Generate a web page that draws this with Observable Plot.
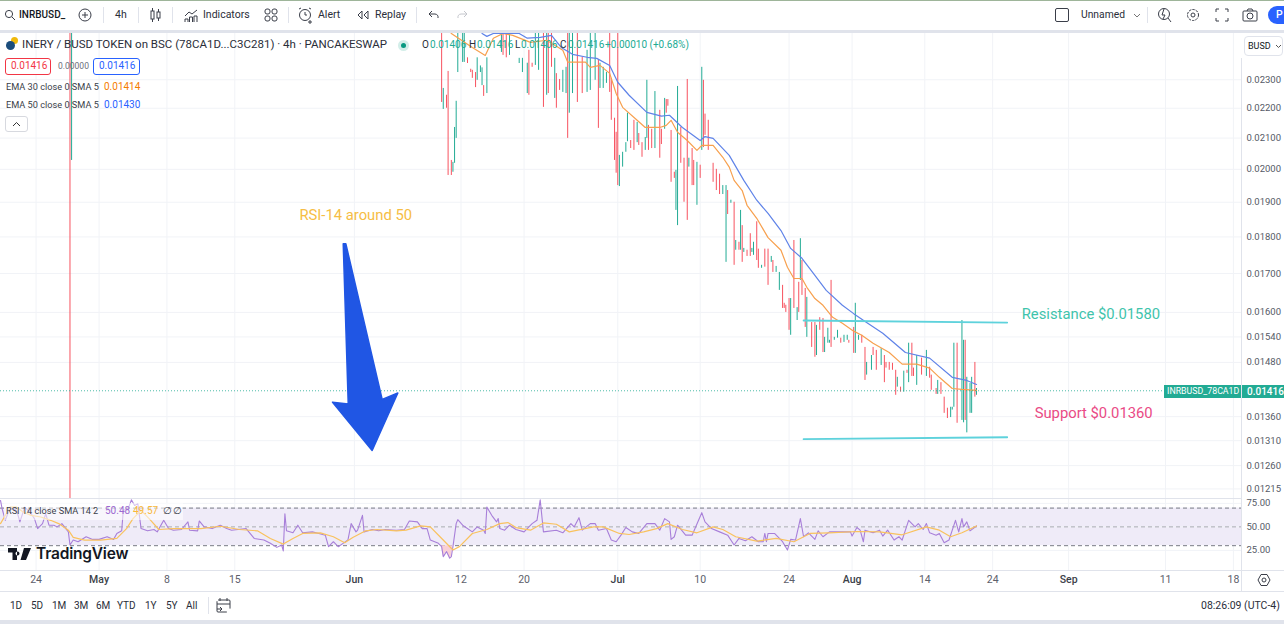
<!DOCTYPE html>
<html><head><meta charset="utf-8">
<script src="https://cdn.jsdelivr.net/npm/d3@7"></script>
<script src="https://cdn.jsdelivr.net/npm/@observablehq/plot@0.6"></script>
<style>
html,body{margin:0;padding:0;background:#fff;overflow:hidden}
#page{position:relative;width:1284px;height:624px;font-family:Roboto,sans-serif;overflow:hidden;color:#2a2e39}
.t{position:absolute;white-space:nowrap;line-height:1}
.b{position:absolute;box-sizing:border-box}
.b svg{display:block}
</style></head><body><div id="page"></div>
<script>
// ---------- price pane data (x = 4h bar number, y = BUSD) ----------
const candleBars = [
43,44,273,274,276,277,279,280,281,282,
283,286,287,289,291,292,294,295,297,298,
299,301,310,311,313,315,321,323,326,327,
329,331,333,336,338,339,341,343,
344,346,348,350,351,352,354,357,360,363,
365,368,370,371,373,375,377,378,380,381,
382,383,385,387,388,390,392,394,395,397,
399,400,401,403,405,408,409,411,412,413,
415,417,418,419,421,423,425,426,428,429,
431,433,434,435,436,438,441,443,445,447,
449,450,452,454,455,457,458,459,460,462,
464,465,466,468,469,471,473,475,477,478,
480,482,484,485,486,488,489,491,493,494,
495,496,498,499,502,504,505,507,509,510,
512,513,514,516,518,520,522,524,525,528,
529,531,533,535,536,539,540,542,545,547,
548,550,552,554,555,557,559,561,562,564,
565,567,570,573,575,576,579,580,582,584,
586,588,589,590,592,595,596,597,598,600,
601,603,604];
const candleHighs = [
.0255,.0255,.0255,.02269,.02245,.0233,.02028,.02022,.02135,.02224,
.0255,.0255,.0255,.0238,.02338,.02334,.02326,.0238,.0235,.02343,
.02279,.0238,.0255,.0255,.0255,.0255,.02378,.02378,.0236,.02408,
.0236,.0255,.0255,.0255,.0255,.0255,.0255,.02378,
.02322,.02301,.02334,.02345,.0255,.0255,.0255,.0255,.02382,.02408,
.0255,.0255,.02371,.0236,.02345,.02326,.0255,.02305,.02166,.02119,
.0255,.02044,.02054,.02085,.02183,.02092,.02159,.02152,.02115,.02085,
.02102,.02298,.02142,.02129,.02258,.02193,.02129,.02234,.0223,.0223,
.02125,.01991,.01997,.02276,.02135,.02035,.02301,.02035,.02066,.02028,
.02022,.02013,.02345,.02298,.0218,.02159,.02019,.02,.01985,.0195,
.0195,.01935,.01906,.019,.0179,.01785,.01876,.01832,.01768,.01763,
.01809,.01768,.01785,.01843,.01766,.01722,.01766,.01766,.01746,.01735,
.01719,.01703,.01669,.01623,.01618,.01635,.01635,.0179,.01612,.01677,
.01795,.01735,.01661,.01638,.01575,.01575,.01568,.01587,.01585,.01539,
.01561,.01532,.01682,.01539,.01556,.01537,.01544,.01544,.01532,.01563,
.01623,.01544,.01544,.01515,.0148,.01496,.01515,.01508,.01512,.01496,
.0148,.0148,.01478,.01462,.01446,.01424,.0146,.01462,.01525,.01525,
.01467,.01496,.0149,.01508,.01469,.01451,.01421,.01439,.01434,.01402,
.01378,.0138,.0138,.01525,.01525,.0158,.01532,.01532,.01446,.01432,
.01446,.0148,.01421];
const candleLows = [
.0118,.02028,.0222,.02196,.022,.01981,.01981,.01991,.02019,.02099,
.02326,.02363,.02363,.02359,.02326,.02305,.02272,.02298,.02326,.02279,
.02241,.02251,.024,.02389,.0238,.02389,.02359,.02326,.02251,.02245,
.02345,.02352,.02334,.02203,.02245,.02251,.02345,.02234,
.022,.02262,.02255,.02251,.02099,.02183,.02251,.0222,.02251,.02255,
.02262,.02298,.02132,.02269,.02269,.02287,.02255,.02159,.02028,.01988,
.0195,.01947,.02007,.02054,.02088,.02066,.0206,.02085,.02076,.02038,
.0206,.02099,.0206,.02066,.02066,.02035,.02079,.02129,.02183,.02207,
.0196,.01972,.01876,.01832,.02019,.019,.01847,.02007,.0195,.0195,
.01891,.01972,.0206,.02069,.02109,.0206,.0196,.01935,.01923,.01923,
.0173,.01864,.01897,.01722,.01763,.01763,.01763,.0173,.01757,.01746,
.01746,.01757,.01749,.01735,.01714,.01714,.01717,.01669,.0173,.01703,
.01703,.01656,.0161,.0161,.016,.01556,.01544,.0161,.0158,.016,
.01682,.01643,.01563,.01539,.01515,.01492,.01496,.01556,.01503,.01503,
.01525,.01525,.01515,.01532,.01537,.01525,.01527,.01532,.01525,.01501,
.01501,.01532,.01525,.01439,.01451,.01462,.01496,.01462,.01473,.01434,
.01467,.01462,.01462,.01406,.01424,.01413,.01413,.01455,.01434,.01448,
.01448,.01428,.01451,.01448,.01444,.01417,.01408,.01408,.01408,.01367,
.01356,.01358,.01374,.0138,.01346,.01352,.01347,.01352,.01326,.01367,
.01367,.01402,.01406];
const candleUp = [
0,1,0,1,0,0,0,1,1,1,
1,1,1,0,0,0,0,1,1,1,
0,1,1,0,0,1,1,1,1,0,
0,1,1,0,1,0,0,1,
0,0,1,1,0,1,1,0,0,1,
1,1,0,1,1,1,0,0,0,0,
0,1,1,1,1,0,0,1,0,0,
1,1,0,0,1,0,0,1,0,0,
0,0,1,1,0,0,0,1,0,0,
1,0,1,0,0,0,0,0,0,1,
1,0,1,0,1,0,1,0,1,0,
0,1,1,0,0,1,0,0,1,0,
1,1,0,0,0,0,1,0,1,0,
1,0,0,1,0,0,1,0,0,1,
1,1,0,1,1,0,1,1,0,0,
1,1,0,0,1,1,0,0,1,0,
0,0,0,0,1,0,1,0,1,0,
0,1,0,1,0,0,0,1,0,0,
0,1,1,1,0,1,1,0,1,1,
1,0,1];
const ema30Bars = [277,279,292,300,305,311,317,328,338,348,351,362,365,371,377,381,385,394,399,408,412,415,419,425,431,434,441,447,451,454,459,462,468,475,483,487,491,496,499,504,509,515,521,528,533,540,550,558,567,575,581,589,595,604];
const ema30 = [.0250,.02472,.02419,.02389,.02454,.02472,.02465,.02438,.02446,.02408,.02364,.02364,.02345,.02352,.02323,.02251,.02203,.02159,.02135,.02135,.02142,.02159,.02119,.02092,.0206,.02076,.02076,.02038,.02007,.01966,.01935,.01891,.01853,.01798,.01763,.01717,.01687,.01687,.01664,.01635,.01618,.01588,.01573,.01554,.01544,.01525,.01503,.01476,.01476,.01467,.01446,.01421,.01419,.01417];
const ema50Bars = [298,301,305,321,326,334,341,347,354,363,369,377,382,389,400,409,414,422,433,436,441,451,460,468,475,483,489,496,504,511,521,528,536,546,560,575,589,598,604];
const ema50 = [.02472,.02461,.02472,.02472,.02454,.02457,.02465,.02419,.02393,.02382,.02378,.02352,.02291,.02245,.02186,.02173,.02176,.02135,.02092,.02105,.02099,.02044,.01966,.01906,.01867,.01818,.01768,.01741,.01695,.01656,.01618,.01597,.01575,.01549,.01503,.0149,.01446,.01439,.0143];
const priceTicks = [.023,.022,.021,.02,.019,.018,.017,.016,.0154,.0148,.0136,.0131,.0126,.01215];
const lastPrice = .01416;
const resistanceBars = [497,623], resistancePrices = [.0158,.01575];
const supportBars = [497,623], supportPrices = [.01313,.01317];
const arrowBars = [212.1,213.7,236.2,245.9,230,205.5,215.2,212.1];
const arrowPrices = [.01781,.01781,.01397,.01411,.0129,.01391,.01387,.01781];
const noteTexts = ["RSI-14 around 50","Resistance $0.01580","Support $0.01360"];
const noteBars = [185,632,640];
const notePrices = [.01861,.01595,.01367];
const noteColors = ["#f6bd44","#3fc4ac","#ea4a85"];
// ---------- RSI pane data ----------
const rsiBars = [0,1,3,6,10,12,15,19,21,23,26,28,30,33,35,38,42,43,45,48,53,57,61,66,70,72,75,76,79,81,83,85,87,91,95,97,101,104,107,112,116,117,122,123,126,131,136,140,143,147,152,157,163,167,171,174,175,176,177,181,184,187,193,197,201,203,206,209,212,215,217,220,221,224,225,230,234,238,245,250,253,258,261,264,
266,271,273,274,276,278,279,280,282,283,286,292,295,299,300,301,304,307,308,309,312,315,319,324,329,332,334,336,344,348,353,355,358,360,365,368,370,375,378,381,384,387,391,395,400,405,408,411,414,415,417,419,424,428,434,436,440,445,450,454,457,461,465,469,472,473,474,475,479,484,487,489,492,495,497,500,504,506,509,513,519,526,527,530,
532,534,535,540,544,546,549,553,556,558,562,566,568,571,573,575,579,581,584,587,591,593,595,596,598,600,604];
const rsiValues = [78.1,69.3,57,71,67.6,55.3,71,64,58.8,48.2,53.5,64,51.8,51.8,50,53.5,44.7,30.7,36,34.2,39.5,36.7,36.7,39.5,36.7,43,45.8,67.6,69.3,78.8,72.8,74.6,48.2,45.8,47.2,44.7,57,48.2,46.5,47.2,55.3,46.5,45.8,56.3,50,48.2,51.8,48.2,46.5,47.2,48.2,37.7,36,32.5,28.2,30.7,24.4,64,45.8,43.7,51.8,43.7,44.7,43,41.2,28.9,34.2,28.9,32.5,36,53.5,44.7,46.5,62.3,44.7,47.2,45.8,47.2,46.5,47.2,56.3,55.3,48.2,48.2,
36,32.5,29,18.4,23.7,16.7,18.4,29,53.5,57.7,51.8,44.7,50,46.5,43,71,62.3,55.3,58.8,48.2,46.5,51.8,47.2,44.7,53.5,57,78.8,44.7,46.5,43.7,53.5,50,59.8,46.5,53.5,53.5,46.5,48.2,36,34.2,41.2,49.3,44.7,43,53.5,53.5,46.5,58.8,55.3,36.7,39.5,51.8,41.2,41.2,65.1,55.3,48.2,44.7,41.2,30.7,37.7,35.3,39.5,34.2,34.2,43,34.2,43,43,34.2,25.4,36.7,36,58.8,39.5,43.7,36.7,45.8,39.5,44.7,44.7,44.7,40.2,49.3,
46.5,34.2,46.5,43.7,46.5,40.2,46.5,36,39.5,36,57,50,53.5,47.2,53.5,43.7,41.2,43,33.2,36,57,44.7,58.8,50,55.3,45.8,51];
const smaBars = [0,6,10,14,19,25,31,36,42,45,52,62,72,78,82,87,92,98,107,124,136,148,159,167,175,181,187,198,206,213,218,226,233,245,251,260,266,272,280,284,292,301,309,314,319,328,336,344,352,367,373,383,389,398,406,413,422,431,441,447,455,468,480,491,501,513,530,544,558,573,581,588,595,604];
const smaValues = [53.5,71,71,65.8,62.3,60.5,57,53.5,46.5,38.8,36,36,37.7,48.2,58.8,67.6,58.8,47.2,48.2,48.2,50.7,47.2,45.8,37.7,31.7,37.7,43,43.7,39.5,33.2,38.8,45.8,47.2,45.8,46.5,51,50,39.5,25.4,29,43,47.2,53.5,54.6,49.3,46.5,54.2,52.8,44.7,50,50,43,41.9,44.7,48.2,53.5,47.2,43.7,50,47.2,39.5,34.9,37.7,34.2,43,43.7,45.1,44.7,41.6,50,46.5,39.5,43.7,51];
const rsiTicks = [75,50,25];
const rsiLevels = [70,50,30];
// ---------- time axis ----------
const dayTickBars = [22,103,145,285,324,433,488,572,614,721,763];
const dayTickLabels = ["24","8","15","12","20","10","24","14","24","11","18"];
const monthTickBars = [61,219,382,527,661];
const monthTickLabels = ["May","Jun","Jul","Aug","Sep"];
// ---------- chrome ----------
const rangeLabels = ["1D","5D","1M","3M","6M","YTD","1Y","5Y","All"];
const rangeLefts = [10,31,52,74,96,117,145,166,186];

const maxBar = 768, paneRight = 1241, width = 1284;
const teal = "#22ab94", red = "#f7525f", gridC = "#f1f3f7", font = "Roboto, sans-serif";
const allTicks = dayTickBars.concat(monthTickBars);
const page = document.getElementById("page");
const candles = candleBars.map((bar,i)=>({bar,high:candleHighs[i],low:candleLows[i],up:candleUp[i]}));
const xScale = {domain:[0,maxBar]};

const price = Plot.plot({
  width, height:465, marginTop:0, marginBottom:0, marginLeft:0, marginRight:width-paneRight,
  style:{fontFamily:font,background:"transparent",overflow:"hidden",position:"absolute",left:"0px",top:"33px"},
  x:{...xScale,axis:null},
  y:{type:"log",domain:[.01197,.02472],axis:null},
  marks:[
    Plot.gridX(allTicks,{x:d=>d,stroke:gridC,strokeOpacity:1}),
    Plot.gridY(priceTicks.concat([.0248]),{y:d=>d,stroke:gridC,strokeOpacity:1}),
    Plot.ruleX(candles,{x:"bar",y1:"low",y2:"high",stroke:d=>d.up?teal:red,strokeWidth:1,clip:true}),
    Plot.line(ema30,{x:(d,i)=>ema30Bars[i],y:d=>d,stroke:"#f7a04e",strokeWidth:1.2,clip:true}),
    Plot.line(ema50,{x:(d,i)=>ema50Bars[i],y:d=>d,stroke:"#5f83e8",strokeWidth:1.2,clip:true}),
    Plot.ruleY([lastPrice],{stroke:teal,strokeDasharray:"1,2",strokeOpacity:.8}),
    Plot.line(resistancePrices,{x:(d,i)=>resistanceBars[i],y:d=>d,stroke:"#5ed2dc",strokeWidth:1.8}),
    Plot.line(supportPrices,{x:(d,i)=>supportBars[i],y:d=>d,stroke:"#5ed2dc",strokeWidth:1.8}),
    Plot.line(arrowPrices,{x:(d,i)=>arrowBars[i],y:d=>d,stroke:"#2056e4",strokeWidth:1.5,strokeLinejoin:"round",fill:"#2056e4"}),
    Plot.text(noteTexts,{x:(d,i)=>noteBars[i],y:(d,i)=>notePrices[i],text:d=>d,fill:(d,i)=>noteColors[i],fontSize:14.8,textAnchor:"start",lineAnchor:"middle"}),
    Plot.axisY({anchor:"right",ticks:priceTicks,tickFormat:d=>d.toFixed(5),tickSize:0,tickPadding:5,fontSize:9.5,fill:"#555a66",label:null})
  ]
});
page.appendChild(price);

const rsi = Plot.plot({
  width, height:93, marginTop:0, marginBottom:21, marginLeft:0, marginRight:width-paneRight,
  style:{fontFamily:font,background:"transparent",position:"absolute",left:"0px",top:"498px"},
  x:{...xScale,axis:null},
  y:{domain:[3.6,80.2],axis:null},
  marks:[
    Plot.gridX(allTicks,{x:d=>d,stroke:gridC,strokeOpacity:1}),
    Plot.rectY([0],{x1:0,x2:maxBar,y1:rsiLevels[2],y2:rsiLevels[0],fill:"#efebf8"}),
    Plot.gridY(rsiTicks,{y:d=>d,stroke:gridC,strokeOpacity:1}),
    Plot.ruleY([rsiLevels[0],rsiLevels[2]],{stroke:"#787b86",strokeDasharray:"4,3",strokeWidth:1}),
    Plot.ruleY([rsiLevels[1]],{stroke:"#a9abb3",strokeDasharray:"4,3",strokeWidth:1}),
    Plot.areaY(rsiValues,{x:(d,i)=>rsiBars[i],y1:rsiLevels[2],y2:d=>d<rsiLevels[2]?d:NaN,fill:"#f9cfd6"}),
    Plot.line(rsiValues,{x:(d,i)=>rsiBars[i],y:d=>d,stroke:"#a87fd9",strokeWidth:1.1}),
    Plot.line(smaValues,{x:(d,i)=>smaBars[i],y:d=>d,stroke:"#f9c25e",strokeWidth:1.2}),
    Plot.axisY({anchor:"right",ticks:rsiTicks,tickFormat:d=>d.toFixed(2),tickSize:0,tickPadding:5,fontSize:9.5,fill:"#555a66",label:null}),
    Plot.axisX({anchor:"bottom",ticks:dayTickBars,tickFormat:d=>dayTickLabels[dayTickBars.indexOf(d)],tickSize:0,tickPadding:5,fontSize:10.5,fill:"#5d606b",label:null}),
    Plot.axisX({anchor:"bottom",ticks:monthTickBars,tickFormat:d=>monthTickLabels[monthTickBars.indexOf(d)],tickSize:0,tickPadding:5,fontSize:10.5,fill:"#3c3f49",fontWeight:500,label:null})
  ]
});
page.appendChild(rsi);

// ---------- chrome helpers ----------
function box(x,y,w,h,style){const d=document.createElement("div");d.className="b";d.style.cssText=`left:${x}px;top:${y}px;width:${w}px;height:${h}px;${style||""}`;page.appendChild(d);return d;}
function txt(s,x,y,size,color,extra){const d=document.createElement("div");d.className="t";d.textContent=s;d.style.cssText=`left:${x}px;top:${y-size/2}px;font-size:${size}px;color:${color||"#2a2e39"};${extra||""}`;page.appendChild(d);return d;}
function icon(x,y,w,h,inner){const d=document.createElement("div");d.className="b";d.style.cssText=`left:${x}px;top:${y}px;width:${w}px;height:${h}px`;d.innerHTML=`<svg width="${w}" height="${h}" viewBox="0 0 ${w} ${h}" fill="none" stroke="#3a3e49" stroke-width="1">${inner}</svg>`;page.appendChild(d);}
const line="#e0e3eb";
// frame bands
box(0,0,1284,1,"background:#9eb59a");
box(0,30,1284,3,`background:${line}`);
box(0,498,1241,1,`background:${line}`);
box(0,570,1284,1,`background:${line}`);
box(0,591,1284,1,`background:${line}`);
box(0,620,1284,4,`background:${line}`);
box(paneRight,58,1,533,`background:${line}`);
// top toolbar
icon(4,9,12,12,'<circle cx="5" cy="5" r="3.6"/><path d="M8 8l3 3"/>');
txt("INRBUSD_",19,15,10,"#131722","font-weight:500");
icon(78,8,14,14,'<circle cx="7" cy="7" r="6"/><path d="M7 4v6M4 7h6"/>');
[103,138,172,288,416,1147].forEach(x=>box(x,7,1,16,`background:${line}`));
txt("4h",115,15,10.5);
icon(150,8,11,14,'<rect x="1" y="3" width="3" height="8"/><rect x="7" y="4" width="3" height="6"/><path d="M2.5 0v3M2.5 11v3M8.5 1v3M8.5 10v3"/>');
icon(184,8,15,15,'<path d="M1 8l4-4 3 2 5-4"/><path d="M1 14v-3h3v3M5.500 14v-5h3v5M10 14v-6h3v6"/>');
txt("Indicators",203,15,10.5);
icon(264,8,14,14,'<rect x="1" y="1" width="5" height="5" rx="2"/><rect x="8" y="1" width="5" height="5" rx="2"/><rect x="1" y="8" width="5" height="5" rx="2"/><rect x="8" y="8" width="5" height="5" rx="2"/>');
icon(298,7,16,17,'<circle cx="7" cy="8" r="5.500"/><path d="M7 5v3h2M1 2l2-1M13 2l-2-1M12 13v4M10 15h4"/>');
txt("Alert",318,15,10.5);
icon(357,10,12,10,'<path d="M5 1L1 5l4 4zM11 1L7 5l4 4z"/>');
txt("Replay",375,15,10.5);
icon(428,10,12,10,'<path d="M4 1L1 4l3 3M1 4h6a3.500 3.500 0 0 1 3 4"/>');
icon(456,10,12,10,'<g stroke="#c4c6cc"><path d="M8 1l3 3-3 3M11 4H5a3.500 3.500 0 0 0-3 4"/></g>');
box(1055,8,14,14,"border:1px solid #3a3e49;border-radius:2px");
txt("Unnamed",1081,15,10.3,"#2a2e39");
icon(1133,13,8,5,'<path d="M1 1l3 3 3-3" stroke="#777"/>');
icon(1157,7,15,16,'<circle cx="7" cy="7" r="5.500"/><path d="M7 2L5 8h3L6 12M11 11l3 4"/>');
icon(1186,8,14,14,'<circle cx="7" cy="7" r="2"/><circle cx="7" cy="7" r="5.500" stroke-dasharray="2.500 1"/>');
icon(1215,8,14,14,'<path d="M1 4V1h3M10 1h3v3M13 10v3h-3M4 13H1v-3"/>');
icon(1242,8,16,14,'<rect x="1" y="3" width="14" height="10" rx="1"/><circle cx="8" cy="8" r="3"/><path d="M5 3l1-2h4l1 2"/>');
box(1268,6,40,18,"background:#2962ff;border-radius:9px");
txt("P",1276,15,10.5,"#fff","font-weight:500");
// legend
box(11,37,7,7,"background:#f0b90b;border-radius:50%");
box(6,41,9,9,"background:#1c4d7c;border-radius:50%");
txt("INERY / BUSD TOKEN on BSC (78CA1D...C3C281) · 4h · PANCAKESWAP",22,45,11.5,"#2a2e39");
box(398,40,11,11,"background:#d3eee9;border-radius:50%");
box(401,43,5,5,"background:#089981;border-radius:50%");
const ohlcKeys=["O","H","L","C"], ohlcVals=["0.01406","0.01416","0.01406","0.01416"];
const ohlcKeyX=[422,469,515,560], ohlcValX=[430,477,521,568];
ohlcKeys.forEach((k,i)=>{txt(k,ohlcKeyX[i],45,10,"#2a2e39");txt(ohlcVals[i],ohlcValX[i],45,10,teal);});
txt("+0.00010 (+0.68%)",605,45,10,teal);
box(5,58,46,17,"border:1px solid #f23645;border-radius:3px;background:#fff");
txt("0.01416",11,66,10,"#f23645");
txt("0.00000",58,66,8.5,"#6a6d78");
box(93,58,47,17,"border:1px solid #2962ff;border-radius:3px;background:#fff");
txt("0.01416",99,66,10,"#2962ff");
txt("EMA 30 close 0 SMA 5",6,87,9.2,"#3a3e49");
txt("0.01414",104,87,10,"#f57c00");
txt("EMA 50 close 0 SMA 5",6,105,9.2,"#3a3e49");
txt("0.01430",104,105,10,"#2962ff");
box(5,116,23,16,"border:1px solid #d7d9df;border-radius:3px;background:#fff");
icon(12,121,9,6,'<path d="M1 5l3.500-3.500L8 5" stroke="#333"/>');
// right side
box(1244,36,39,20,"border:1px solid #e0e3eb;border-radius:4px;background:#fff");
txt("BUSD",1248,46,9,"#131722");
icon(1275,44,7,5,'<path d="M1 1l2.500 2.500L6 1" stroke="#555"/>');
box(1164,385,77,13,`background:${teal}`);
txt("INRBUSD_78CA1D",1167,391.500,8.8,"#fff");
box(1241.5,385,42.5,13,`background:${teal}`);
txt("0.01416",1247,391.500,10,"#fff","font-weight:500");
// RSI legend + logo
box(4,503,179,17,"background:rgba(255,255,255,.55)");
txt("RSI 14 close SMA 14 2",6,511,9.2,"#3a3e49");
txt("50.48",105,511,10,"#9c6ad1");
txt("49.57",133,511,10,"#f9b93a");
txt("∅",163,511,9.5,"#3a3e49");
txt("∅",173,511,9.5,"#3a3e49");
const logo=document.createElement("div");logo.className="b";logo.style.cssText="left:8px;top:548px;width:23px;height:12px";
logo.innerHTML='<svg width="23" height="12" viewBox="0 0 23 12" fill="#131722"><path d="M0 0h9v12H4.500V4.500H0zM9.500 3.500a2 2 0 1 0 .01 0zM16 0h7l-5 12h-5.500z"/></svg>';
page.appendChild(logo);
txt("TradingView",36,554,15.5,"#131722","font-weight:600;font-family:Inter,Roboto,sans-serif;letter-spacing:-.2px");
// gear at axis corner
icon(1257,573,14,14,'<path d="M4 1.500h6l3 5.500-3 5.500H4L1 7z"/><circle cx="7" cy="7" r="2"/>');
// bottom toolbar
rangeLabels.forEach((s,i)=>txt(s,rangeLefts[i],606,10,"#2a2e39"));
box(208,597,1,17,`background:${line}`);
icon(216,598,15,15,'<rect x="1" y="2" width="13" height="12" rx="1" stroke-dasharray="20 6"/><path d="M1 6h13M4 0v3M11 0v3M1 11h5M4 9l2 2-2 2"/>');
txt("08:26:09 (UTC-4)",1201,606,10.5,"#2a2e39");
</script></body></html>
